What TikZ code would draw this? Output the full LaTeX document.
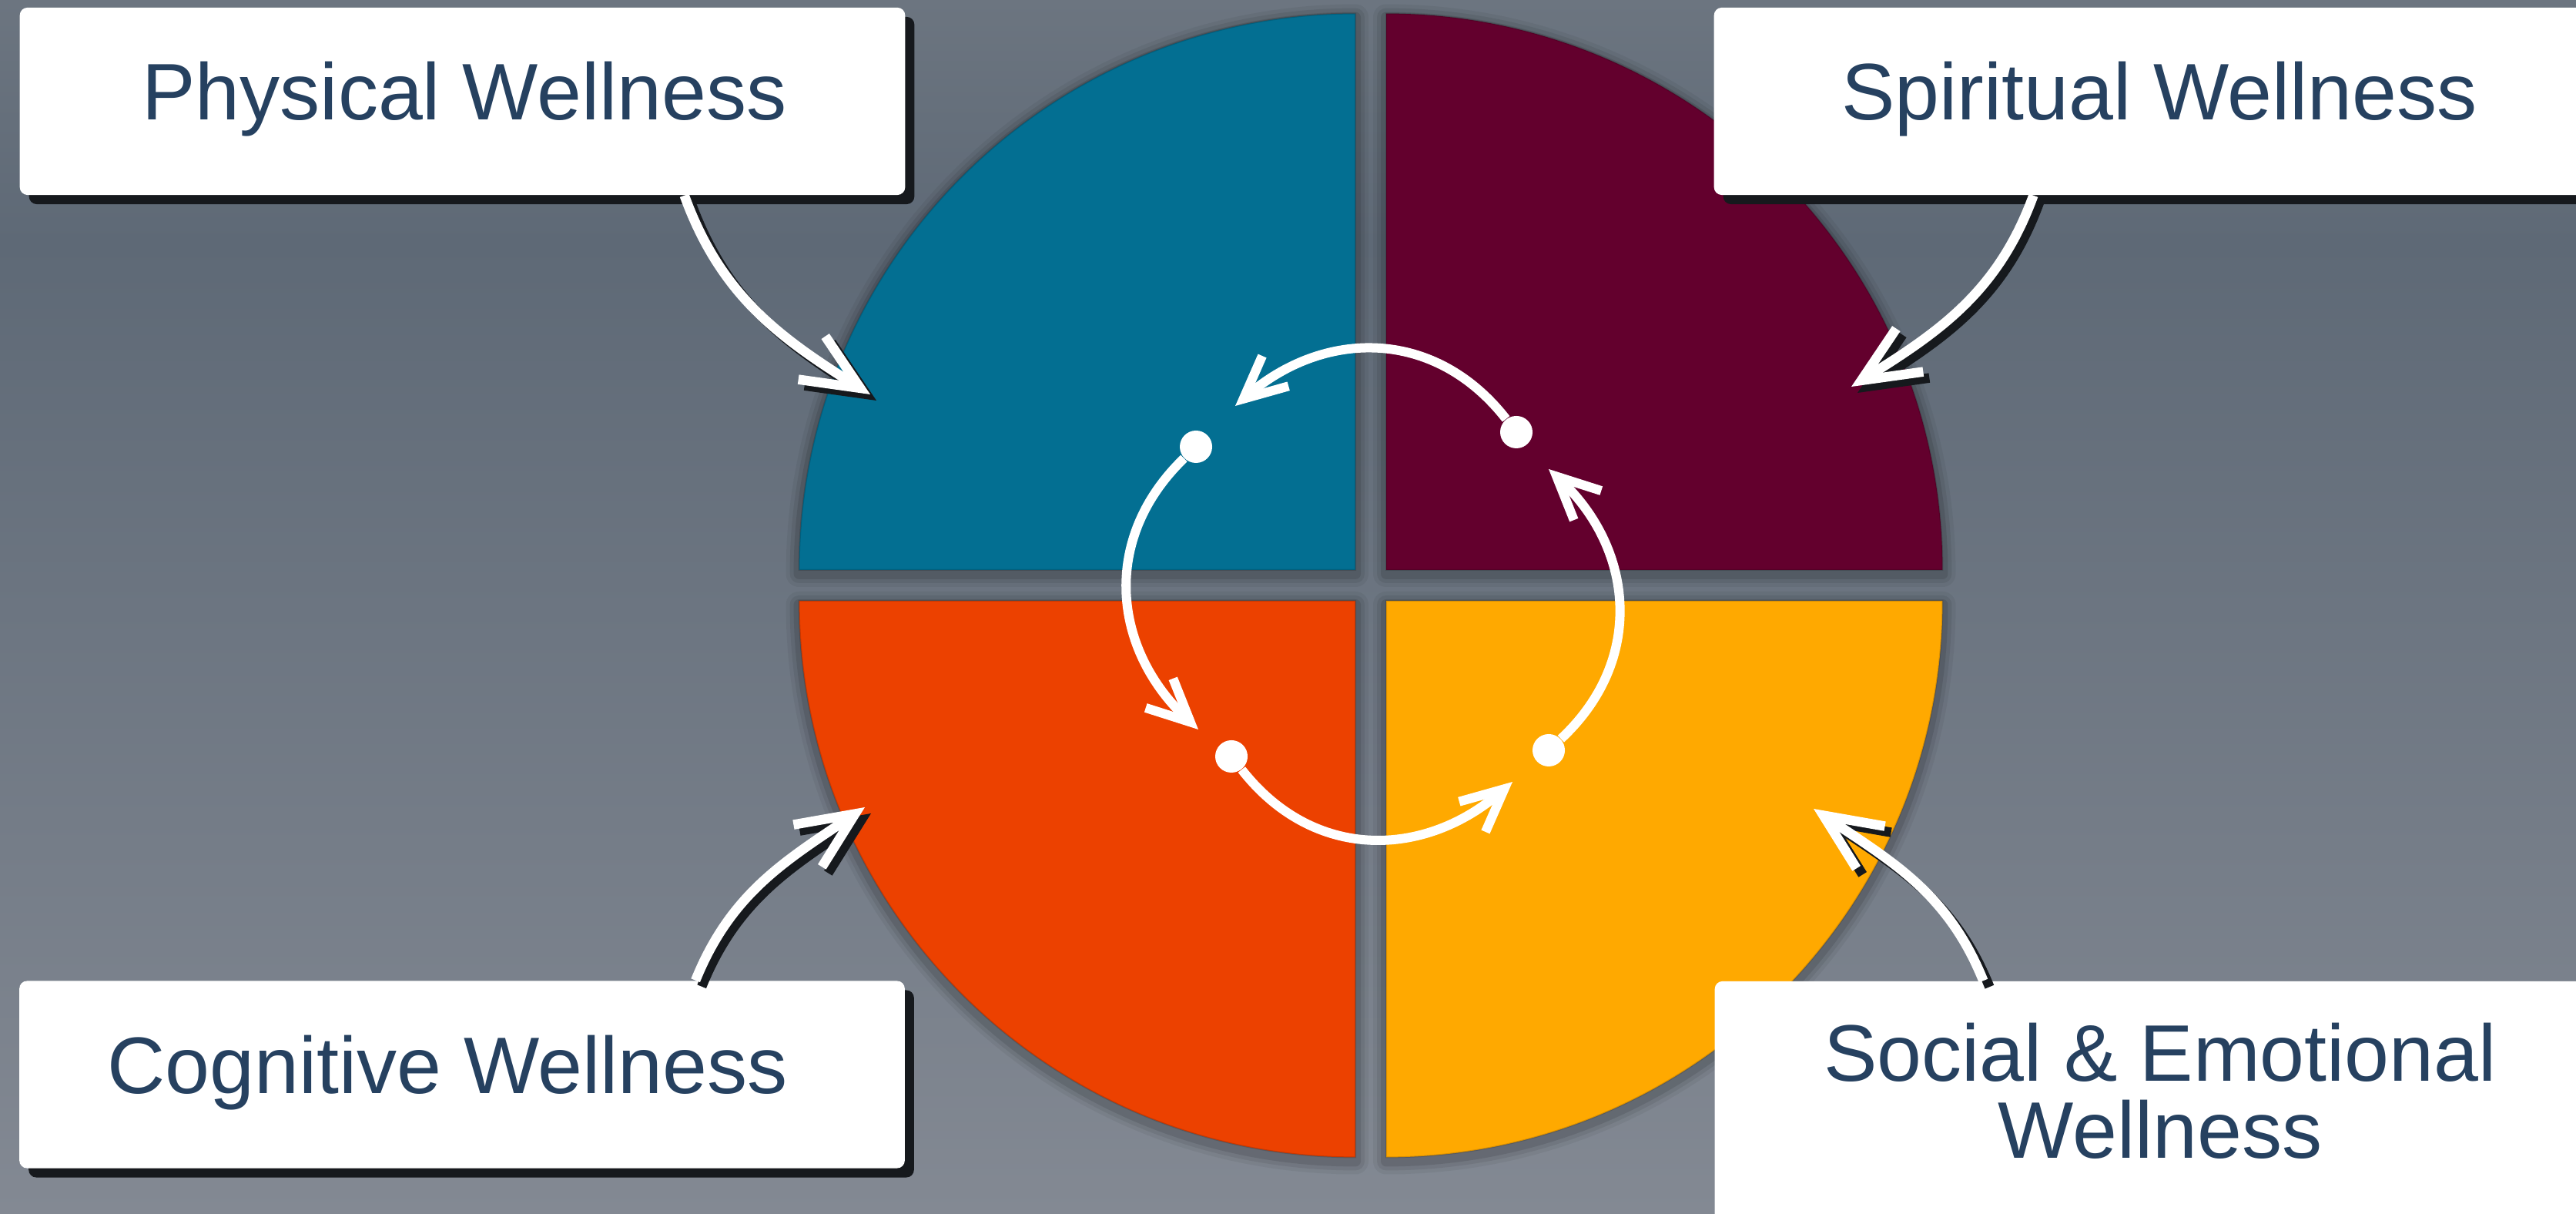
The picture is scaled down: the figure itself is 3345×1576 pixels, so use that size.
\documentclass[tikz,border=0pt]{standalone}
\usepackage{fontspec}
\setmainfont{Liberation Sans}
\usepackage{tikz}
\usetikzlibrary{arrows.meta,shadows}
\definecolor{bgtop}{RGB}{108,117,128}
\definecolor{bgdark}{RGB}{94,105,118}
\definecolor{bgbottom}{RGB}{131,137,147}
\definecolor{physblue}{RGB}{3,111,146}
\definecolor{spiritred}{RGB}{99,0,45}
\definecolor{cogorange}{RGB}{236,65,0}
\definecolor{socialyellow}{RGB}{255,169,0}
\definecolor{labelnavy}{RGB}{38,65,96}
\definecolor{boxshadow}{RGB}{22,25,29}
\pgfdeclareverticalshading{backdrop}{100bp}{color(0bp)=(bgbottom); color(25bp)=(bgbottom); color(65bp)=(bgdark); color(75bp)=(bgtop); color(100bp)=(bgtop)}
\tikzstyle{labelbox} = [fill=white,rounded corners=0.1cm,minimum width=11.49cm,minimum height=2.43cm,inner sep=0,drop shadow={shadow xshift=0.12cm,shadow yshift=-0.12cm,fill=boxshadow,opacity=1}]
\tikzstyle{labeltext} = [text=labelnavy,font=\fontsize{29.6pt}{28.5pt}\selectfont,align=center,inner sep=0]
\tikzstyle{pointer} = [draw=white,line width=0.125cm,-{Straight Barb[length=0.74cm,width=0.66cm]}]
\tikzstyle{pointershadow} = [pointer,draw=boxshadow,transform canvas={shift={(0.08cm,-0.08cm)}}]
\tikzstyle{hub} = [circle,fill=white,minimum size=0.42cm,inner sep=0]
\tikzstyle{loopflow} = [draw=white,line width=0.12cm,looseness=1.1,-{Straight Barb[length=0.55cm,width=0.52cm]}]
\def \px {0.01cm}

\begin{document}
\begin{tikzpicture}[x=\px,y=\px]
  \useasboundingbox (0,0) rectangle (3345,1576);
  \clip (0,0) rectangle (3345,1576);
  \shade[shading=backdrop] (0,0) rectangle (3345,1576);

  \foreach \w/\o in {0.34cm/.05,0.24cm/.07,0.14cm/.1}
    \foreach \cx/\cy/\a in {1760/836/90,1800/836/0,1760/796/180,1800/796/270}
      \draw[black,opacity=\o,line width=\w,line join=round,shift={(0,-5)}]
        (\cx,\cy) -- ++(\a:7.22cm) arc[start angle=\a,delta angle=90,radius=7.22cm] -- cycle;
  \foreach \col/\cx/\cy/\a in {physblue/1760/836/90,spiritred/1800/836/0,cogorange/1760/796/180,socialyellow/1800/796/270}
    \filldraw[fill=\col,draw=black,draw opacity=.15,line width=0.02cm]
      (\cx,\cy) -- ++(\a:7.22cm) arc[start angle=\a,delta angle=90,radius=7.22cm] -- cycle;

  \node[labelbox] (physical) at (600.5,1444.5) {};
  \node[labelbox] (spiritual) at (2800.5,1444.5) {};
  \node[labelbox] (cognitive) at (600,181) {};
  \node[labelbox,minimum height=4.02cm] (social) at (2801.5,101) {};
  \node[labeltext,anchor=base] (physicaltext) at (603,1420) {Physical Wellness};
  \node[labeltext,anchor=base] (spiritualtext) at (2804,1420) {Spiritual Wellness};
  \node[labeltext,anchor=base] (cognitivetext) at (581,156) {Cognitive Wellness};
  \node[labeltext] (socialtext) at (2805,160) {Social \& Emotional\\Wellness};

  \coordinate (physicaltip) at (1130,1064);
  \coordinate (spiritualtip) at (2404,1074);
  \coordinate (cognitivetip) at (1123,528);
  \coordinate (socialtip) at (2355,526);
  \draw[pointershadow] ([xshift=2.88cm]physical.south) to[out=-70,in=148] (physicaltip);
  \draw[pointer] ([xshift=2.88cm]physical.south) to[out=-70,in=148] (physicaltip);
  \draw[pointershadow] ([xshift=-1.6cm]spiritual.south) to[out=-110,in=32] (spiritualtip);
  \draw[pointer] ([xshift=-1.6cm]spiritual.south) to[out=-110,in=32] (spiritualtip);
  \draw[pointershadow] ([xshift=3.03cm]cognitive.north) to[out=68,in=-146] (cognitivetip);
  \draw[pointer] ([xshift=3.03cm]cognitive.north) to[out=68,in=-146] (cognitivetip);
  \draw[pointershadow] ([xshift=-2.26cm]social.north) to[out=112,in=-34] (socialtip);
  \draw[pointer] ([xshift=-2.26cm]social.north) to[out=112,in=-34] (socialtip);

  \node[hub] (hubphys) at (1553,996) {};
  \node[hub] (hubspirit) at (1969,1015) {};
  \node[hub] (hubcog) at (1599,594) {};
  \node[hub] (hubsocial) at (2011,602) {};
  \coordinate (tipphys) at (1604,1049);
  \coordinate (tipcog) at (1556,629);
  \coordinate (tipsocial) at (1964,561);
  \coordinate (tipspirit) at (2011,967);
  \draw[loopflow] (hubspirit) to[out=128,in=41] (tipphys);
  \draw[loopflow] (hubphys) to[out=224,in=137] (tipcog);
  \draw[loopflow] (hubcog) to[out=-52,in=221] (tipsocial);
  \draw[loopflow] (hubsocial) to[out=43,in=-43] (tipspirit);
\end{tikzpicture}
\end{document}
